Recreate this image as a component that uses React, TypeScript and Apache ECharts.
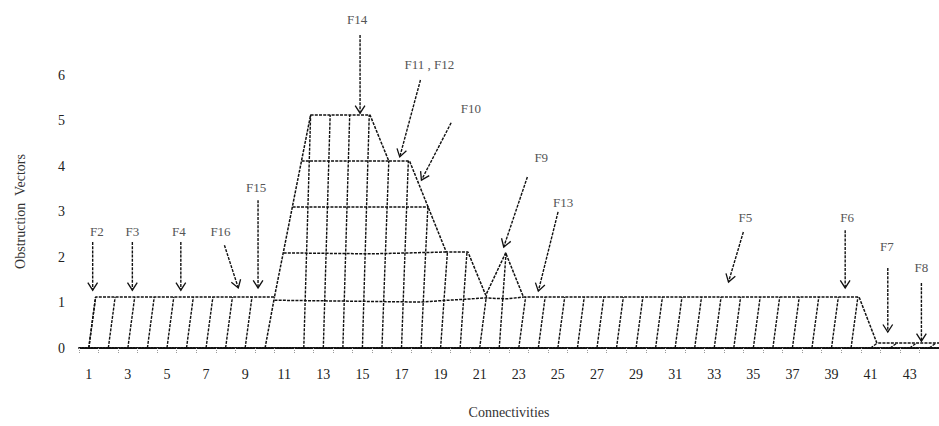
import React, { useEffect, useRef } from "react";
import * as echarts from "echarts";

const CATEGORIES = [
  "1", "2", "3", "4", "5", "6", "7", "8", "9", "10", "11", "12", "13", "14", "15",
  "16", "17", "18", "19", "20", "21", "22", "23", "24", "25", "26", "27", "28", "29",
  "30", "31", "32", "33", "34", "35", "36", "37", "38", "39", "40", "41", "42", "43", "44",
];

// Outer outline of the obstruction-vector profile [connectivity, vectors]
const OUTLINE: [number, number][] = [
  [1, 0], [1.35, 1.12], [10.5, 1.12], [12.35, 5.12], [15.39, 5.12], [16.35, 4.11],
  [17.41, 4.11], [19.29, 2.11], [20.4, 2.11], [21.31, 1.16], [22.33, 2.09],
  [23.24, 1.12], [40.41, 1.12], [41.32, 0.11], [44.5, 0.11],
];
const LEFT_EDGE: [number, number][] = [[10.02, 0], [10.5, 1.12]];

// Inner level lines of the stacked block
const LEVEL_1: [number, number][] = [[10.5, 1.05], [17.9, 1.01], [21.31, 1.1], [22.4, 1.08], [23.24, 1.12]];
const LEVEL_2: [number, number][] = [[10.97, 2.09], [15.5, 2.07], [19.29, 2.11]];
const LEVEL_3: [number, number][] = [[11.43, 3.1], [18.38, 3.1]];
const LEVEL_4: [number, number][] = [[11.89, 4.11], [16.35, 4.11]];

// Hatch lines: [connectivity, top value]
const HATCH: [number, number][] = [
  [1, 1.12], [2, 1.12], [3, 1.12], [4, 1.12], [5, 1.12], [6, 1.12], [7, 1.12], [8, 1.12], [9, 1.12],
  [12, 5.12], [13, 5.12], [14, 5.12], [15, 5.12], [16, 4.11], [17, 4.11], [18, 3.11],
  [19, 2.11], [20, 2.11], [21, 1.16], [22, 2.09], [23, 1.12], [24, 1.12], [25, 1.12],
  [26, 1.12], [27, 1.12], [28, 1.12], [29, 1.12], [30, 1.12], [31, 1.12], [32, 1.12],
  [33, 1.12], [34, 1.12], [35, 1.12], [36, 1.12], [37, 1.12], [38, 1.12], [39, 1.12],
  [40, 1.12], [41, 0.11], [42, 0.11], [43, 0.11], [44, 0.11],
];

// Fault annotations: label, text position, arrow start, arrow tip (data units)
const ANNOTATIONS = [
  { label: "F2", text: [1.41, 2.55], from: [1.2, 2.33], to: [1.2, 1.27] },
  { label: "F3", text: [3.23, 2.55], from: [3.23, 2.33], to: [3.23, 1.27] },
  { label: "F4", text: [5.61, 2.55], from: [5.71, 2.33], to: [5.71, 1.27] },
  { label: "F16", text: [7.74, 2.55], from: [7.94, 2.26], to: [8.65, 1.32] },
  { label: "F15", text: [9.56, 3.52], from: [9.66, 3.25], to: [9.66, 1.32] },
  { label: "F14", text: [14.73, 7.21], from: [14.88, 6.88], to: [14.88, 5.16] },
  { label: "F11 , F12", text: [18.43, 6.24], from: [17.97, 5.89], to: [16.91, 4.2] },
  { label: "F10", text: [20.55, 5.27], from: [19.54, 4.95], to: [18.02, 3.69] },
  { label: "F9", text: [24.15, 4.18], from: [23.44, 3.76], to: [22.23, 2.22] },
  { label: "F13", text: [25.27, 3.19], from: [25.01, 2.99], to: [24.0, 1.25] },
  { label: "F5", text: [34.59, 2.86], from: [34.49, 2.55], to: [33.73, 1.45] },
  { label: "F6", text: [39.8, 2.86], from: [39.7, 2.59], to: [39.7, 1.32] },
  { label: "F7", text: [41.83, 2.22], from: [41.88, 1.76], to: [41.88, 0.35] },
  { label: "F8", text: [43.6, 1.76], from: [43.6, 1.43], to: [43.6, 0.15] },
];

const INK = "#111111";
const SLANT = 0.35;
const DASH = [3, 1.2];
const SERIF = "'Liberation Serif', 'DejaVu Serif', serif";

function lineSeries(name: string, data: [number, number][]) {
  return {
    name,
    type: "line",
    xAxisIndex: 1,
    yAxisIndex: 0,
    data,
    symbol: "none",
    clip: false,
    silent: true,
    lineStyle: { color: INK, width: 1.5, type: DASH },
  };
}

export default function App() {
  const ref = useRef<HTMLDivElement>(null);

  useEffect(() => {
    if (!ref.current) return;
    const chart = echarts.init(ref.current, null, { renderer: "svg" });
    const option: any = {
      animation: false,
      backgroundColor: "#ffffff",
      grid: { left: 79, top: 75, width: 869, height: 273, containLabel: false },
      xAxis: [
        {
          type: "category",
          data: CATEGORIES,
          boundaryGap: true,
          name: "Connectivities",
          nameLocation: "middle",
          nameGap: 57,
          nameTextStyle: { fontFamily: SERIF, fontSize: 14, color: "#333" },
          axisLine: { show: true, lineStyle: { color: INK, width: 1.8, type: [2, 1] } },
          axisTick: { show: true, interval: 0, length: 5, lineStyle: { color: "#9a9a9a", type: [1, 1] } },
          axisLabel: { interval: 1, margin: 19, fontFamily: SERIF, fontSize: 14, color: "#222" },
          splitLine: { show: false },
        },
        {
          type: "value",
          min: 0.5,
          max: 44.5,
          show: false,
          splitLine: { show: false },
        },
      ],
      yAxis: {
        type: "value",
        min: 0,
        max: 6,
        interval: 1,
        name: "Obstruction  Vectors",
        nameLocation: "middle",
        nameGap: 52,
        nameTextStyle: { fontFamily: SERIF, fontSize: 14, color: "#333" },
        axisLine: { show: false },
        axisTick: { show: false },
        splitLine: { show: false },
        axisLabel: { margin: 14, fontFamily: SERIF, fontSize: 14, color: "#222" },
      },
      series: [
        lineSeries("outline", OUTLINE),
        lineSeries("leftEdge", LEFT_EDGE),
        lineSeries("level1", LEVEL_1),
        lineSeries("level2", LEVEL_2),
        lineSeries("level3", LEVEL_3),
        lineSeries("level4", LEVEL_4),
        {
          name: "hatch",
          type: "custom",
          xAxisIndex: 1,
          yAxisIndex: 0,
          clip: false,
          silent: true,
          data: HATCH,
          encode: { x: 0, y: 1 },
          renderItem: (params: any, api: any) => {
            const x = api.value(0);
            const top = api.value(1);
            const p0 = api.coord([x, 0]);
            const p1 = api.coord([x + SLANT, top]);
            return {
              type: "line",
              shape: { x1: p0[0], y1: p0[1], x2: p1[0], y2: p1[1] },
              style: { stroke: INK, lineWidth: 1.4, lineDash: DASH, fill: null },
            };
          },
        },
        {
          name: "annotations",
          type: "custom",
          xAxisIndex: 1,
          yAxisIndex: 0,
          clip: false,
          silent: true,
          data: ANNOTATIONS.map((a) => [a.to[0], a.to[1]]),
          encode: { x: 0, y: 1 },
          renderItem: (params: any, api: any) => {
            const a = ANNOTATIONS[params.dataIndex];
            const t = api.coord(a.text);
            const f = api.coord(a.from);
            const e = api.coord(a.to);
            const ang = Math.atan2(e[1] - f[1], e[0] - f[0]);
            const L = 9;
            const th = Math.PI / 5.5;
            const pA = [e[0] - L * Math.cos(ang - th), e[1] - L * Math.sin(ang - th)];
            const pB = [e[0] - L * Math.cos(ang + th), e[1] - L * Math.sin(ang + th)];
            return {
              type: "group",
              children: [
                {
                  type: "text",
                  style: {
                    text: a.label,
                    x: t[0],
                    y: t[1],
                    align: "center",
                    verticalAlign: "middle",
                    fill: "#555",
                    fontSize: 13,
                    fontFamily: SERIF,
                  },
                },
                {
                  type: "line",
                  shape: { x1: f[0], y1: f[1], x2: e[0], y2: e[1] },
                  style: { stroke: INK, lineWidth: 1.4, lineDash: DASH, fill: null },
                },
                {
                  type: "polyline",
                  shape: { points: [pA, e, pB] },
                  style: { stroke: INK, lineWidth: 1.3, fill: null },
                },
              ],
            };
          },
        },
      ],
    };
    chart.setOption(option);
    return () => chart.dispose();
  }, []);

  return (
    <div
      ref={ref}
      style={{ position: "fixed", left: 0, top: 0, width: 939, height: 426, background: "#fff" }}
    />
  );
}
